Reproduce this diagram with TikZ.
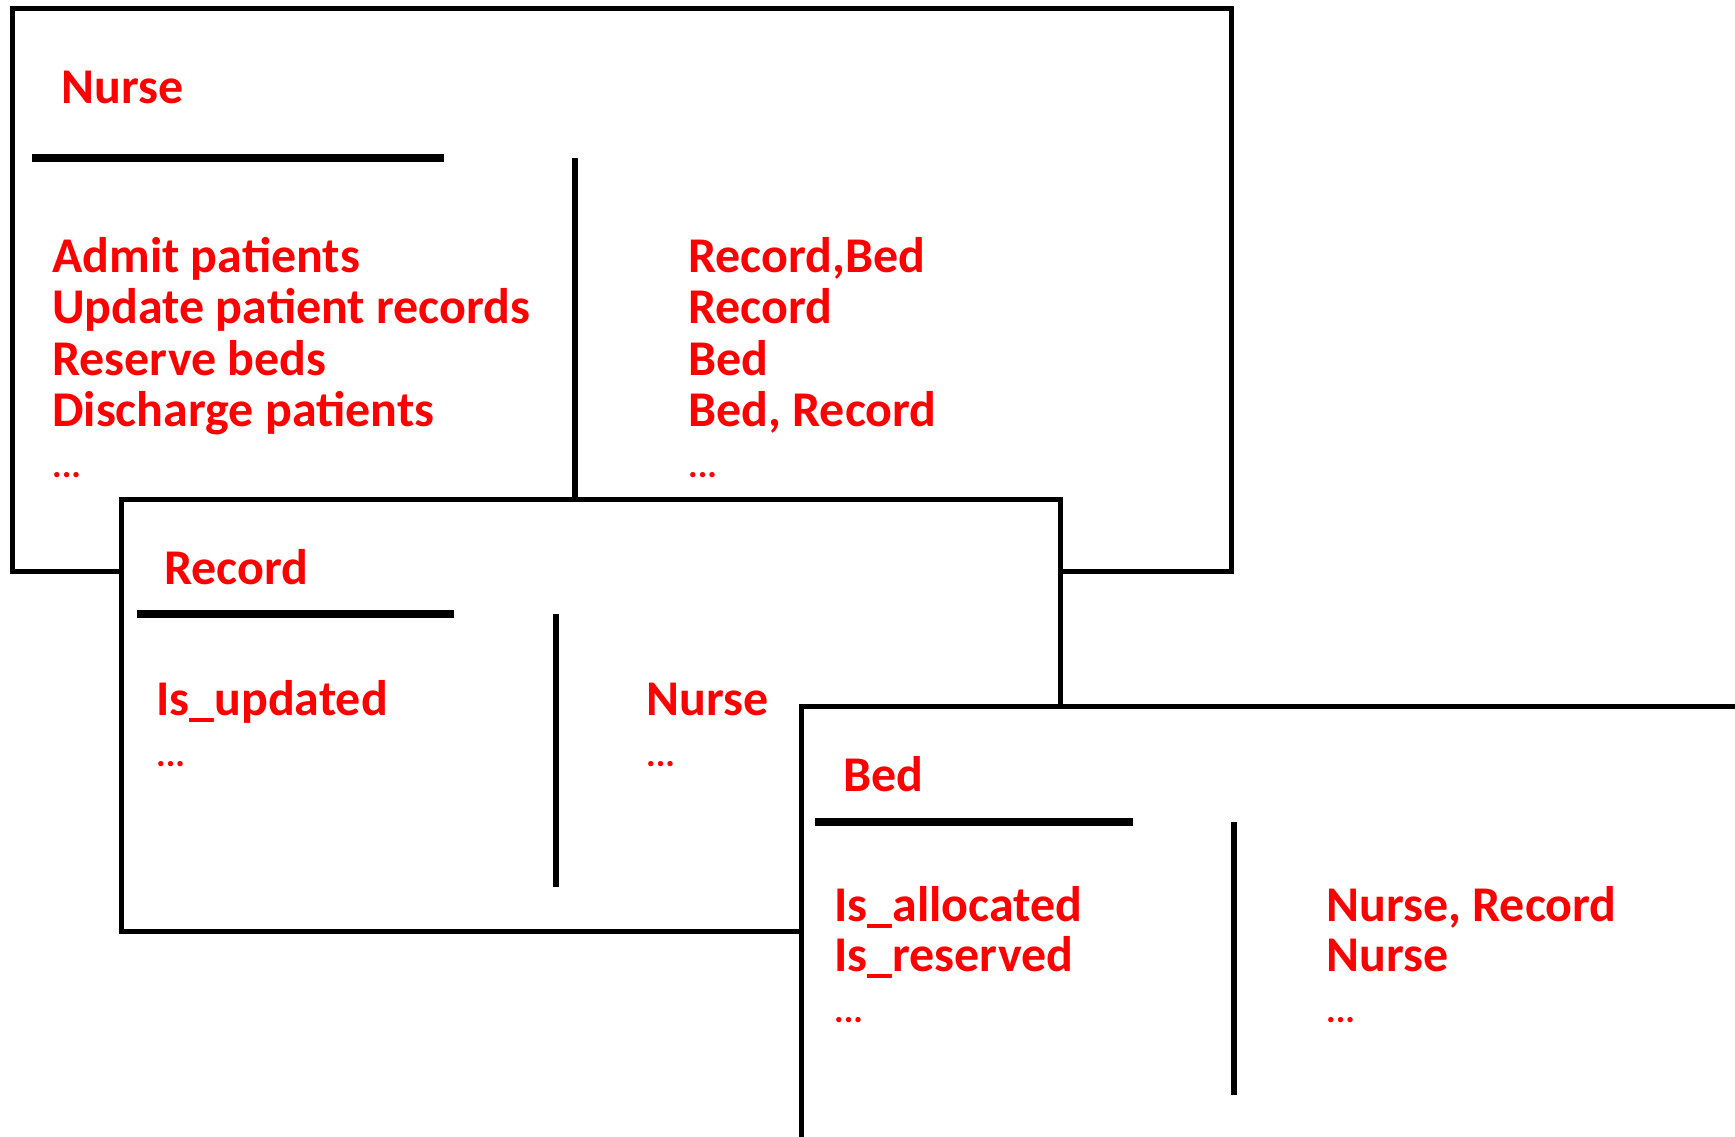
\documentclass[tikz,border=0pt]{standalone}
\usepackage{fontspec}
\setmainfont{Carlito}
\begin{document}
\begin{tikzpicture}[x=1pt,y=-1pt,
  frame/.style={draw=black, line width=5pt, fill=white, rectangle, inner sep=0pt, outer sep=0pt, anchor=north west},
  hsep/.style={draw=black, line width=8pt, line cap=butt},
  vsep/.style={draw=black, line width=6pt, line cap=butt},
  txt/.style={text=red, font=\fontsize{50}{55}\selectfont\bfseries, anchor=base west, inner sep=0pt},
  dots/.style={text=red, font=\fontsize{36}{40}\selectfont\bfseries, anchor=base west, inner sep=0pt}]
\useasboundingbox (0,0) rectangle (1735,1136);
\clip (0,0) rectangle (1735,1136);
% ---- Nurse card ----
\node[frame, minimum width=1219.3pt, minimum height=562.1pt] (nurse) at (12.2,8.9) {};
\node[txt] (nT) at (61,103) {Nurse};
\draw[hsep] (32,158) -- (444,158);
\draw[vsep] (575,158) -- (575,499);
\node[txt] (n1) at (52,272) {Admit patients};
\node[txt] (n2) at (52,323) {Update patient records};
\node[txt] (n3) at (52,375) {Reserve beds};
\node[txt] (n4) at (52,426) {Discharge patients};
\node[dots] (n5) at (52,477) {...};
\node[txt] (c1) at (688,272) {Record,Bed};
\node[txt] (c2) at (688,323) {Record};
\node[txt] (c3) at (688,375) {Bed};
\node[txt] (c4) at (688,426) {Bed, Record};
\node[dots] (c5) at (688,477) {...};
% ---- Record card ----
\node[frame, minimum width=938.3pt, minimum height=432.7pt] (record) at (121.7,499) {};
\node[txt] (rT) at (164,584) {Record};
\draw[hsep] (137,614) -- (454,614);
\draw[vsep] (555.5,614) -- (555.5,887);
\node[txt] (r1) at (156,715) {Is\_updated};
\node[dots] (r2) at (156,766) {...};
\node[txt] (rc1) at (646,715) {Nurse};
\node[dots] (rc2) at (646,766) {...};
% ---- Bed card ----
\node[frame, minimum width=1100pt, minimum height=600pt] (bed) at (801,706) {};
\node[txt] (bT) at (843,791) {Bed};
\draw[hsep] (815,822) -- (1133,822);
\draw[vsep] (1234,822) -- (1234,1095);
\node[txt] (b1) at (834,921) {Is\_allocated};
\node[txt] (b2) at (834,971.5) {Is\_reserved};
\node[dots] (b3) at (834,1022) {...};
\node[txt] (bc1) at (1326,921) {Nurse, Record};
\node[txt] (bc2) at (1326,971.5) {Nurse};
\node[dots] (bc3) at (1326,1022) {...};
\end{tikzpicture}
\end{document}
